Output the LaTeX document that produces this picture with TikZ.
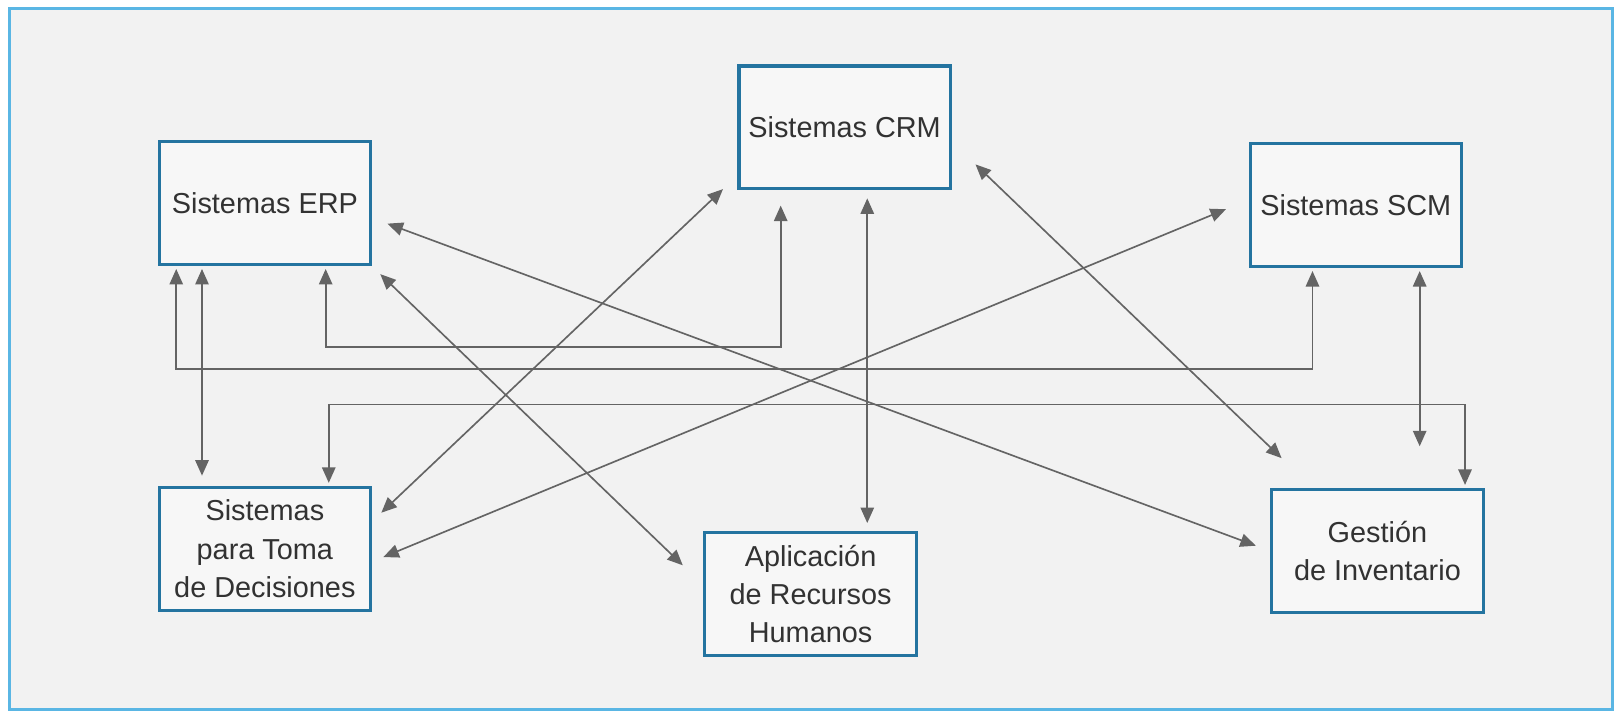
\documentclass[tikz,border=0pt]{standalone}
\usepackage{fontspec}
\setmainfont{Liberation Sans}
\usetikzlibrary{arrows.meta,calc}
\definecolor{framec}{RGB}{90,182,228}
\definecolor{bgc}{RGB}{242,242,242}
\definecolor{boxc}{RGB}{36,116,160}
\definecolor{linec}{RGB}{100,100,100}
\definecolor{txtc}{RGB}{50,50,50}
\begin{document}
\begin{tikzpicture}[x=1pt,y=-1pt,
  sysbox/.style={draw=boxc, line width=3pt, fill=white!40!bgc,
    minimum width=205pt, minimum height=119pt, align=center, text=txtc,
    font=\fontsize{28}{37}\selectfont, inner sep=0pt},
  conn/.style={draw=linec, line width=1.6pt,
    {Triangle[length=15pt,width=13pt]}-{Triangle[length=15pt,width=13pt]}}]
\useasboundingbox (0,0) rectangle (1568,690);
\fill[white] (0,0) rectangle (1568,690);
\draw[framec, line width=3pt, fill=bgc] (9,8) rectangle (1565,688);

\node[sysbox] (erp) at (257,197) {Sistemas ERP};
\node[sysbox] (crm) at (819.5,123.5) {Sistemas CRM};
\node[sysbox] (scm) at (1315.5,199) {Sistemas SCM};
\node[sysbox] (dec) at (257,532.5) {Sistemas\\para Toma\\de Decisiones};
\node[sysbox] (rrhh) at (786.5,576.5) {Aplicación\\de Recursos\\Humanos};
\node[sysbox] (ges) at (1336.5,534.5) {Gestión\\de Inventario};

\coordinate (free) at ($(scm.south west)+(166,173)$);

% orthogonal connectors
\draw[conn] ($(erp.south west)+(18,3)$) -- ++(0,97) -| ($(scm.south west)+(62,3)$);
\draw[conn] ($(erp.south west)+(43,3)$) -- ($(dec.north west)+(43,-10)$);
\draw[conn] ($(erp.south west)+(163,3)$) -- ++(0,76) -| ($(crm.south west)+(42,15)$);
\draw[conn] ($(crm.south west)+(126,8)$) -- ($(rrhh.north west)+(159,-8)$);
\draw[conn] ($(scm.south west)+(166,3)$) -- (free);
\draw[conn] ($(dec.north west)+(166,-3)$) -- ++(0,-76) -| ($(ges.north west)+(189,-3)$);

% diagonal connectors
\draw[conn] ($(crm.south west)+(-14,-1)$) -- ($(dec.north east)+(9,26)$);
\draw[conn] ($(scm.north west)+(-22,65)$) -- ($(dec.north east)+(11,69)$);
\draw[conn] ($(erp.north east)+(15,81)$) -- ($(ges.north west)+(-14,56)$);
\draw[conn] ($(erp.north east)+(8,130)$) -- ($(rrhh.north west)+(-20,33)$);
\draw[conn] ($(crm.north east)+(23,97)$) -- ($(ges.north west)+(11,-29)$);
\end{tikzpicture}
\end{document}
